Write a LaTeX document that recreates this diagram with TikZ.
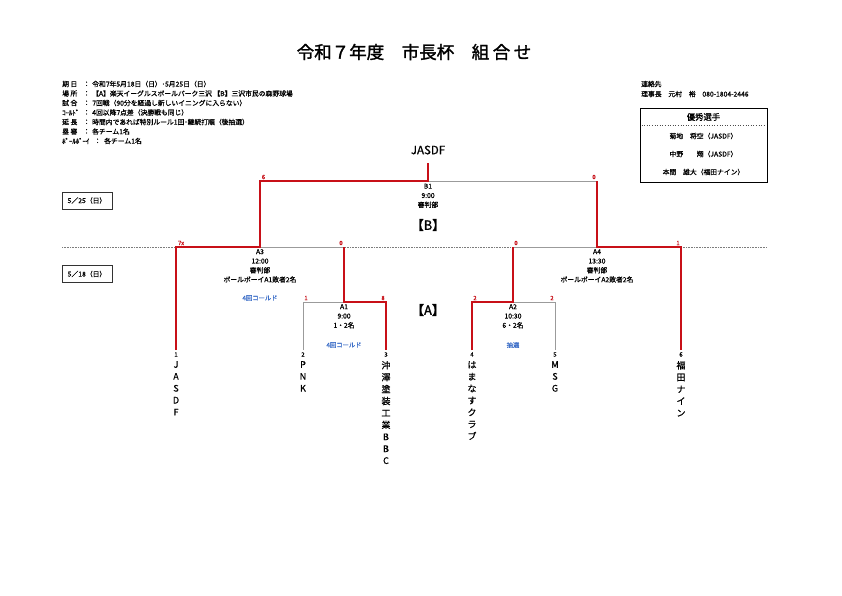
\documentclass[tikz,border=0pt]{standalone}
\usepackage{fontspec}
\setmainfont{Noto Sans CJK JP}[FakeBold=0.7]
\newfontfamily\boldjp{Noto Sans CJK JP}[FakeBold=1.6]
\definecolor{winred}{RGB}{200,16,24}
\definecolor{losegray}{RGB}{155,155,155}
\definecolor{noteblue}{RGB}{60,110,200}
\tikzset{
  win/.style={draw=winred,line width=1.9pt,line join=miter},
  lose/.style={draw=losegray,line width=1pt},
  info/.style={anchor=west,inner sep=0pt,font=\fontsize{6.8}{7}\selectfont},
  score/.style={inner sep=0pt,text=winred,font=\fontsize{6}{6}\selectfont},
  matchlbl/.style={inner sep=0pt,align=center,font=\fontsize{6.8}{9.3}\selectfont},
  note/.style={inner sep=0pt,text=noteblue,font=\fontsize{6.3}{6}\selectfont},
  teamno/.style={inner sep=0pt,font=\fontsize{6}{6}\selectfont},
  teamname/.style={anchor=north,inner sep=0pt,align=center,font=\fontsize{9}{11.9}\selectfont},
  datebox/.style={draw=black!80,line width=0.7pt,minimum width=50pt,minimum height=17pt,inner sep=0pt,font=\fontsize{6.8}{7}\selectfont},
  venue/.style={inner sep=0pt,font=\boldjp\fontsize{12.8}{13}\selectfont}
}
\begin{document}
\begin{tikzpicture}[x=1pt,y=-1pt]
\useasboundingbox (0,0) rectangle (842,595);
\fill[white] (0,0) rectangle (842,595);
% title
\node[inner sep=0pt,font=\boldjp\fontsize{17.5}{19}\selectfont] (title) at (414,52) {令和７年度　市長杯　組\hspace{3.5pt}合\hspace{3.5pt}せ};
% info block
\foreach \y/\lab/\val [count=\i] in {
  84/期 日/令和7年5月18日（日）･5月25日（日）,
  93.5/場 所/【A】楽天イーグルスボールパーク三沢 【B】三沢市民の森野球場,
  103/試 合/7回戦（90分を経過し新しいイニングに入らない）,
  112.5/ｺｰﾙﾄﾞ/4回以降7点差（決勝戦も同じ）,
  122/延 長/時間内であれば特別ルール1回･継続打順（後抽選）,
  131.5/塁 審/各チーム1名}{
  \node[info] (lab\i) at (62,\y) {\lab};
  \node[info] (col\i) at (83,\y) {：};
  \node[info] (val\i) at (92,\y) {\val};
}
\node[info] (lab7) at (62,141) {ﾎﾞｰﾙﾎﾞｰｲ};
\node[info] (col7) at (94,141) {：};
\node[info] (val7) at (104,141) {各チーム1名};
% contact
\node[info] (contact) at (641,84) {連絡先};
\node[info] (chief) at (641,94) {理事長　元村　裕　080-1804-2446};
% award box
\node[draw=black,line width=1pt,minimum width=127pt,minimum height=74pt,inner sep=0pt] (award) at (703.5,145) {};
\node[inner sep=0pt,font=\fontsize{8.3}{9}\selectfont] (awardhead) at (703.5,117) {優秀選手};
\draw[black!70,line width=0.6pt,dotted] ([xshift=2pt,yshift=-18pt]award.north west) -- ([xshift=-2pt,yshift=-18pt]award.north east);
\node[inner sep=0pt,font=\fontsize{6.8}{7}\selectfont] (p1) at (703.5,136) {菊地　将空（JASDF）};
\node[inner sep=0pt,font=\fontsize{6.8}{7}\selectfont] (p2) at (703.5,154) {中野　　翔（JASDF）};
\node[inner sep=0pt,font=\fontsize{6.8}{7}\selectfont] (p3) at (703.5,172) {本間　雄大（福田ナイン）};
% dates
\node[datebox] (d525) at (87,200.5) {5／25（日）};
\node[datebox] (d518) at (87,274) {5／18（日）};
% round divider
\coordinate (divL) at (62,247);
\coordinate (divR) at (767,247);
\draw[losegray!80!black,line width=0.6pt,densely dotted] (divL) -- (divR);
% bracket coordinates
\coordinate (e1) at (176,350); \coordinate (e2) at (303,350); \coordinate (e3) at (386,350);
\coordinate (e4) at (472,350); \coordinate (e5) at (555,350); \coordinate (e6) at (681,350);
\coordinate (a1l) at (303,302); \coordinate (a1c) at (344,302); \coordinate (a1r) at (386,302);
\coordinate (a2l) at (472,302); \coordinate (a2c) at (513,302); \coordinate (a2r) at (555,302);
\coordinate (a3l) at (176,247); \coordinate (a3c) at (260,247); \coordinate (a3r) at (344,247);
\coordinate (a4l) at (513,247); \coordinate (a4c) at (597,247); \coordinate (a4r) at (681,247);
\coordinate (b1l) at (260,181); \coordinate (b1c) at (428,181); \coordinate (b1r) at (597,181);
\coordinate (champ) at (428,163);
% losing paths
\draw[lose] (e2) -- (a1l) -- (a1c);
\draw[lose] (e5) -- (a2r) -- (a2c);
\draw[lose] (a3r) -- (a3c);
\draw[lose] (a4l) -- (a4c);
\draw[lose] (b1r) -- (b1c);
% winning paths
\draw[win] (e1) -- (a3l) -- (a3c) -- (b1l) -- (b1c) -- (champ);
\draw[win] (e3) -- (a1r) -- (a1c) -- (a3r);
\draw[win] (e4) -- (a2l) -- (a2c) -- (a4l);
\draw[win] (e6) -- (a4r) -- (a4c) -- (b1r);
% scores
\node[score] (s6) at (263.5,177) {6};
\node[score] (s0b) at (594,177) {0};
\node[score] (s7x) at (181,243) {7x};
\node[score] (s0a3) at (341,243) {0};
\node[score] (s0a4) at (516,243) {0};
\node[score] (s1a4) at (678,243) {1};
\node[score] (s1a1) at (306,298) {1};
\node[score] (s8a1) at (383,298) {8};
\node[score] (s2a2l) at (475,298) {2};
\node[score] (s2a2r) at (552,298) {2};
% champion
\node[inner sep=0pt,font=\fontsize{11.5}{12}\selectfont] (winner) at (428,150) {JASDF};
% match labels
\node[matchlbl,anchor=north] (mB1) at (428,183.5) {B1\\9:00\\審判部};
\node[venue] (venB) at (428,225) {【B】};
\node[matchlbl,anchor=north] (mA3) at (260,249) {A3\\12:00\\審判部\\ボールボーイA1敗者2名};
\node[matchlbl,anchor=north] (mA4) at (597,249) {A4\\13:30\\審判部\\ボールボーイA2敗者2名};
\node[matchlbl,anchor=north] (mA1) at (344,304) {A1\\9:00\\1・2名};
\node[matchlbl,anchor=north] (mA2) at (513,304) {A2\\10:30\\6・2名};
\node[venue] (venA) at (428,310) {【A】};
\node[note] (nA3) at (260,298) {4回コールド};
\node[note] (nA1) at (344,345) {4回コールド};
\node[note] (nA2) at (513,345) {抽選};
% team numbers
\node[teamno] (n1) at (176,354.5) {1};
\node[teamno] (n2) at (303,354.5) {2};
\node[teamno] (n3) at (386,354.5) {3};
\node[teamno] (n4) at (472,354.5) {4};
\node[teamno] (n5) at (555,354.5) {5};
\node[teamno] (n6) at (681,354.5) {6};
% team names
\node[teamname] (t1) at (176,361) {J\\A\\S\\D\\F};
\node[teamname] (t2) at (303,361) {P\\N\\K};
\node[teamname] (t3) at (386,361) {沖\\澤\\塗\\装\\工\\業\\B\\B\\C};
\node[teamname] (t4) at (472,361) {は\\ま\\な\\す\\ク\\ラ\\ブ};
\node[teamname] (t5) at (555,361) {M\\S\\G};
\node[teamname] (t6) at (681,361) {福\\田\\ナ\\イ\\ン};
\end{tikzpicture}
\end{document}
